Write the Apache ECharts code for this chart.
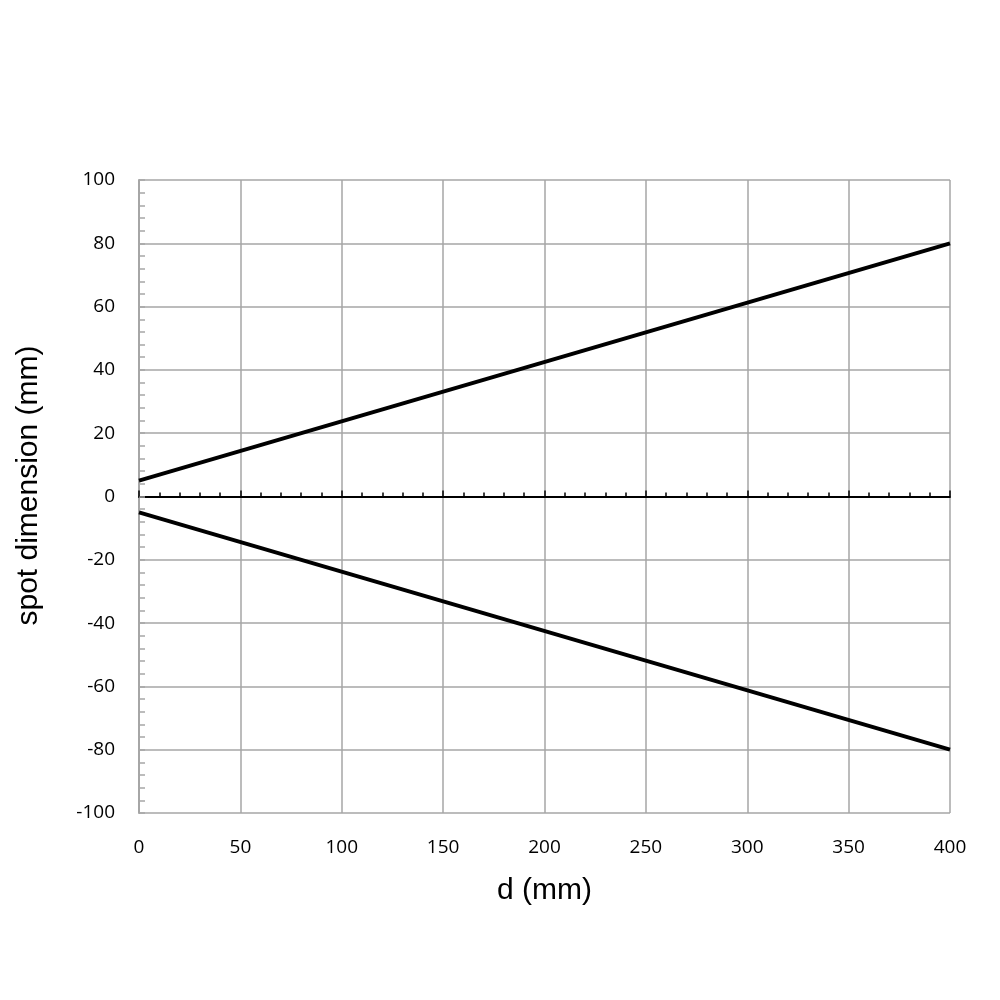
<!DOCTYPE html>
<html>
<head>
<meta charset="utf-8">
<script src="https://cdn.jsdelivr.net/npm/echarts@6/dist/echarts.min.js"></script>
<style>
    html, body { margin: 0; padding: 0; background: #fff; }
    #chart { width: 1000px; height: 1000px; }
</style>
</head>
<body>
<div id="chart"></div>
<script>
// 数据
const upperEdge = [[0, 5], [400, 80]];
const lowerEdge = [[0, -5], [400, -80]];
const xRange = [0, 400];
const yRange = [-100, 100];

const gridColor = '#a6a6a6';
const tickFont = 'Open Sans, Lato, sans-serif';
const titleFont = 'Liberation Sans, Arial, sans-serif';

const chart = echarts.init(document.getElementById('chart'));

const option = {
    backgroundColor: '#fff',
    animation: false,
    grid: {
        left: 139,
        right: 50,
        top: 180,
        bottom: 187
    },
    xAxis: [
        {
            // 零线（黑色，带刻度）
            type: 'value',
            position: 'bottom',
            min: xRange[0],
            max: xRange[1],
            interval: 50,
            axisLine: {
                show: true,
                onZero: true,
                lineStyle: { color: '#000', width: 2 }
            },
            axisTick: {
                show: true,
                inside: true,
                length: 6,
                lineStyle: { color: '#000', width: 1.5 }
            },
            minorTick: {
                show: true,
                splitNumber: 5,
                length: 4,
                lineStyle: { color: '#000', width: 1.5 }
            },
            axisLabel: { show: false },
            splitLine: { show: false }
        },
        {
            // 底部标签和网格
            type: 'value',
            position: 'bottom',
            min: xRange[0],
            max: xRange[1],
            interval: 50,
            axisLine: { show: false, onZero: false },
            axisTick: { show: false },
            axisLabel: {
                color: '#000',
                fontFamily: tickFont,
                fontSize: 19,
                margin: 25
            },
            splitLine: {
                show: true,
                lineStyle: { color: gridColor, width: 1.5 }
            },
            name: 'd (mm)',
            nameLocation: 'middle',
            nameGap: 63,
            nameTextStyle: {
                color: '#000',
                fontFamily: titleFont,
                fontSize: 30
            }
        }
    ],
    yAxis: {
        type: 'value',
        min: yRange[0],
        max: yRange[1],
        interval: 20,
        axisLine: {
            show: true,
            onZero: false,
            lineStyle: { color: gridColor, width: 2 }
        },
        axisTick: {
            show: true,
            inside: true,
            length: 6,
            lineStyle: { color: gridColor, width: 1.5 }
        },
        minorTick: {
            show: true,
            splitNumber: 5,
            length: 6,
            lineStyle: { color: gridColor, width: 1.5 }
        },
        axisLabel: {
            color: '#000',
            fontFamily: tickFont,
            fontSize: 19,
            margin: 24
        },
        splitLine: {
            show: true,
            lineStyle: { color: gridColor, width: 1.5 }
        },
        name: 'spot dimension (mm)',
        nameLocation: 'middle',
        nameGap: 95,
        nameRotate: 90,
        nameTextStyle: {
            color: '#000',
            fontFamily: titleFont,
            fontSize: 30,
            padding: [0, 0, 0, 22]
        }
    },
    series: [
        {
            type: 'line',
            xAxisIndex: 0,
            data: upperEdge,
            symbol: 'none',
            lineStyle: { color: '#000', width: 4 }
        },
        {
            type: 'line',
            xAxisIndex: 0,
            data: lowerEdge,
            symbol: 'none',
            lineStyle: { color: '#000', width: 4 }
        }
    ]
};

chart.setOption(option);
</script>
</body>
</html>
